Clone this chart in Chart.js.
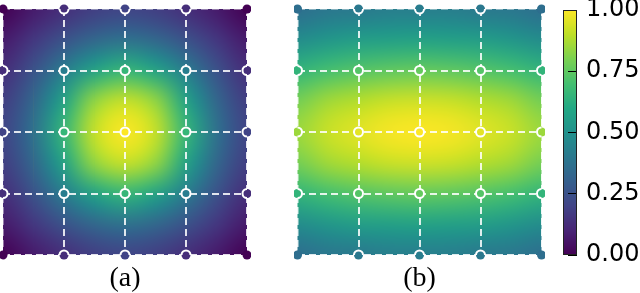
<!DOCTYPE html>
<html>
<head>
<meta charset="utf-8">
<script src="https://cdn.jsdelivr.net/npm/chart.js@4.4.0/dist/chart.umd.min.js"></script>
<style>
  html, body { margin: 0; padding: 0; background: #fff; overflow: hidden; }
  #wrap { position: relative; width: 640px; height: 293px; }
  .box { position: absolute; top: 0; height: 293px; }
</style>
</head>
<body>
<div id="wrap">
  <div class="box" style="left:0;width:251px"><canvas id="chartA"></canvas></div>
  <div class="box" style="left:294px;width:251px"><canvas id="chartB"></canvas></div>
  <div class="box" style="left:555px;width:85px"><canvas id="colorBar"></canvas></div>
</div>
<script>
// node positions of the mesh
var gridX = [-1, -0.5, 0, 0.5, 1];
var gridY = [-1, -0.5, 0, 0.5, 1];
var colorTicks = [0, 0.25, 0.5, 0.75, 1];
var panelLabels = ['(a)', '(b)'];

// field values, every quarter step, top row first
var fieldA = [
    [0.00, 0.07, 0.13, 0.18, 0.20, 0.18, 0.13, 0.07, 0.00],
    [0.07, 0.16, 0.25, 0.33, 0.37, 0.33, 0.25, 0.16, 0.07],
    [0.13, 0.25, 0.42, 0.58, 0.66, 0.58, 0.42, 0.25, 0.13],
    [0.18, 0.33, 0.58, 0.84, 0.92, 0.84, 0.58, 0.33, 0.18],
    [0.20, 0.37, 0.66, 0.92, 1.00, 0.92, 0.66, 0.37, 0.20],
    [0.18, 0.33, 0.58, 0.84, 0.92, 0.84, 0.58, 0.33, 0.18],
    [0.13, 0.25, 0.42, 0.58, 0.66, 0.58, 0.42, 0.25, 0.13],
    [0.07, 0.16, 0.25, 0.33, 0.37, 0.33, 0.25, 0.16, 0.07],
    [0.00, 0.07, 0.13, 0.18, 0.20, 0.18, 0.13, 0.07, 0.00]
];
var fieldB = [
    [0.36, 0.39, 0.40, 0.42, 0.42, 0.42, 0.40, 0.39, 0.36],
    [0.48, 0.52, 0.55, 0.56, 0.57, 0.56, 0.55, 0.52, 0.48],
    [0.65, 0.70, 0.73, 0.75, 0.76, 0.75, 0.73, 0.70, 0.65],
    [0.79, 0.86, 0.89, 0.92, 0.93, 0.92, 0.89, 0.86, 0.79],
    [0.85, 0.92, 0.96, 0.99, 1.00, 0.99, 0.96, 0.92, 0.85],
    [0.79, 0.86, 0.89, 0.92, 0.93, 0.92, 0.89, 0.86, 0.79],
    [0.65, 0.70, 0.73, 0.75, 0.76, 0.75, 0.73, 0.70, 0.65],
    [0.48, 0.52, 0.55, 0.56, 0.57, 0.56, 0.55, 0.52, 0.48],
    [0.36, 0.39, 0.40, 0.42, 0.42, 0.42, 0.40, 0.39, 0.36]
];

// viridis colour map
var viridis = ['#440154', '#482475', '#414487', '#355f8d', '#2a788e', '#21918c',
               '#22a884', '#44bf70', '#7ad151', '#bddf26', '#fde725'];

function hexRgb(h) {
    return [parseInt(h.substr(1, 2), 16), parseInt(h.substr(3, 2), 16), parseInt(h.substr(5, 2), 16)];
}

function colorRgb(t) {
    t = Math.max(0, Math.min(1, t));
    var pos = t * (viridis.length - 1);
    var i = Math.min(Math.floor(pos), viridis.length - 2);
    var f = pos - i;
    var a = hexRgb(viridis[i]), b = hexRgb(viridis[i + 1]);
    return [0, 1, 2].map(function(k) { return Math.round(a[k] + (b[k] - a[k]) * f); });
}

function colorCss(t) {
    var c = colorRgb(t);
    return 'rgb(' + c[0] + ',' + c[1] + ',' + c[2] + ')';
}

Chart.defaults.font.family = 'DejaVu Sans';
Chart.defaults.color = '#000';

// paints the field under the mesh, smoothed by the browser
var heatField = {
    id: 'heatField',
    beforeDraw: function(chart, args, opts) {
        var values = opts.values;
        if (!values) return;
        var rows = values.length, cols = values[0].length;
        var img = document.createElement('canvas');
        img.width = cols;
        img.height = rows;
        var ictx = img.getContext('2d');
        var pix = ictx.createImageData(cols, rows);
        for (var r = 0; r < rows; r++) {
            for (var c = 0; c < cols; c++) {
                var rgb = colorRgb(values[r][c]);
                var k = (r * cols + c) * 4;
                pix.data[k] = rgb[0];
                pix.data[k + 1] = rgb[1];
                pix.data[k + 2] = rgb[2];
                pix.data[k + 3] = 255;
            }
        }
        ictx.putImageData(pix, 0, 0);

        var xs = chart.scales.x, ys = chart.scales.y;
        var x0 = xs.getPixelForValue(gridX[0]), x1 = xs.getPixelForValue(gridX[gridX.length - 1]);
        var y0 = ys.getPixelForValue(gridY[0]), y1 = ys.getPixelForValue(gridY[gridY.length - 1]);
        var cw = (x1 - x0) / (cols - 1), ch = (y1 - y0) / (rows - 1);
        var ctx = chart.ctx, area = chart.chartArea;
        ctx.save();
        ctx.beginPath();
        ctx.rect(area.left, area.top, area.right - area.left, area.bottom - area.top);
        ctx.clip();
        ctx.imageSmoothingEnabled = true;
        ctx.imageSmoothingQuality = 'high';
        ctx.drawImage(img, x0 - cw / 2, y0 - ch / 2, cw * cols, ch * rows);
        ctx.restore();
    }
};

function nodePoints(values) {
    var pts = [];
    gridY.forEach(function(gy, r) {
        gridX.forEach(function(gx, c) {
            pts.push({x: gx, y: gy, v: values[r * 2][c * 2]});
        });
    });
    return pts;
}

function isEdge(v) { return v === gridX[0] || v === gridX[gridX.length - 1]; }

function meshScale(label, reverse) {
    var s = {
        type: 'linear',
        min: gridX[0],
        max: gridX[gridX.length - 1],
        reverse: reverse,
        ticks: { display: false, stepSize: 0.5 },
        grid: {
            color: 'rgba(255,255,255,0.85)',
            lineWidth: function(ctx) { return ctx.tick && isEdge(ctx.tick.value) ? 1.5 : 2; },
            drawTicks: false
        },
        border: { display: false, dash: [7, 4] }
    };
    if (label) {
        s.title = {
            display: true,
            text: label,
            color: '#000',
            font: { family: 'Liberation Serif', size: 28, lineHeight: 1 },
            padding: { top: 9.5, bottom: 0.5 }
        };
    }
    return s;
}

function drawPanel(id, values, label, pad) {
    var pts = nodePoints(values);
    var fills = pts.map(function(p) { return colorCss(p.v); });
    var rings = pts.map(function(p) {
        return (isEdge(p.x) && isEdge(p.y)) ? 'rgba(0,0,0,0)' : '#ffffff';
    });

    new Chart(document.getElementById(id), {
        type: 'scatter',
        data: {
            datasets: [{
                data: pts,
                pointRadius: 4.5,
                pointBorderWidth: 2,
                pointBackgroundColor: fills,
                pointBorderColor: rings,
                clip: 0
            }, {
                data: pts,
                pointRadius: 4.5,
                pointBorderWidth: 0,
                pointBackgroundColor: fills,
                pointBorderColor: fills,
                clip: false
            }]
        },
        options: {
            responsive: true,
            maintainAspectRatio: false,
            animation: false,
            events: [],
            layout: { autoPadding: false, padding: pad },
            plugins: {
                legend: { display: false },
                tooltip: { enabled: false },
                heatField: { values: values }
            },
            scales: {
                x: meshScale(label, false),
                y: meshScale(null, true)
            }
        },
        plugins: [heatField]
    });
}

drawPanel('chartA', fieldA, panelLabels[0], { left: 3, right: 4, top: 9, bottom: 0 });
drawPanel('chartB', fieldB, panelLabels[1], { left: 3.5, right: 3.5, top: 9, bottom: 0 });

// colour bar
var barFill = {
    id: 'barFill',
    beforeDraw: function(chart) {
        var ys = chart.scales.y, area = chart.chartArea, ctx = chart.ctx;
        var yb = ys.getPixelForValue(colorTicks[0]);
        var yt = ys.getPixelForValue(colorTicks[colorTicks.length - 1]);
        var g = ctx.createLinearGradient(0, yb, 0, yt);
        viridis.forEach(function(c, i) { g.addColorStop(i / (viridis.length - 1), c); });
        ctx.save();
        ctx.fillStyle = g;
        ctx.fillRect(area.left, yt, area.right - area.left, yb - yt);
        ctx.restore();
    },
    afterDraw: function(chart) {
        var area = chart.chartArea, ctx = chart.ctx;
        ctx.save();
        ctx.strokeStyle = '#222';
        ctx.lineWidth = 1;
        ctx.strokeRect(Math.round(area.left) + 0.5, Math.round(area.top) + 0.5,
                       Math.round(area.right - area.left) - 1, Math.round(area.bottom - area.top) - 1);
        ctx.restore();
    }
};

new Chart(document.getElementById('colorBar'), {
    type: 'scatter',
    data: { datasets: [] },
    options: {
        responsive: true,
        maintainAspectRatio: false,
        animation: false,
        events: [],
        layout: { autoPadding: false, padding: { left: 8, right: 0, top: 10, bottom: 38 } },
        plugins: { legend: { display: false }, tooltip: { enabled: false } },
        scales: {
            x: { display: false, min: 0, max: 1 },
            y: {
                position: 'right',
                min: colorTicks[0],
                max: colorTicks[colorTicks.length - 1],
                afterBuildTicks: function(s) {
                    s.ticks = colorTicks.map(function(v) { return {value: v}; });
                },
                afterFit: function(s) {
                    s.width = 63;
                    s.paddingTop = 0;
                    s.paddingBottom = 0;
                },
                ticks: {
                    padding: 18,
                    color: '#000',
                    font: { family: 'DejaVu Sans', size: 24 },
                    callback: function(v) { return Number(v).toFixed(2); }
                },
                grid: {
                    drawOnChartArea: false,
                    drawTicks: true,
                    tickLength: -9,
                    tickColor: '#000',
                    tickWidth: 1
                },
                border: { display: false }
            }
        }
    },
    plugins: [barFill]
});
</script>
</body>
</html>
